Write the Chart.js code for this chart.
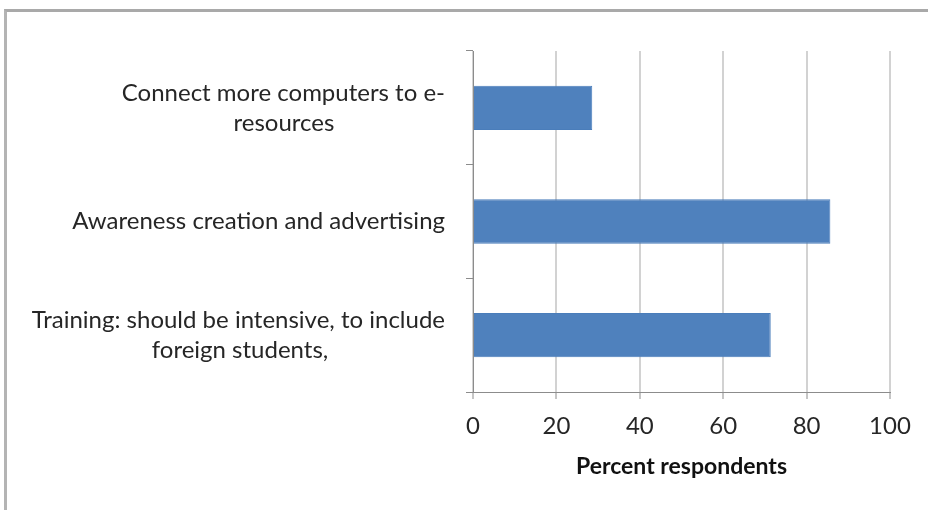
<!DOCTYPE html>
<html>
<head>
<meta charset="utf-8">
<title>Suggestions for improving e-resource use</title>
<script src="https://cdn.jsdelivr.net/npm/chart.js@4"></script>
<style>
  html, body { margin: 0; padding: 0; background: #fff; }
  #wrap { position: relative; width: 928px; height: 510px; overflow: hidden; }
  #frame {
    position: absolute; left: 4px; top: 9px; right: -10px; bottom: -10px;
    border-top: 3px solid #a9a9a9; border-left: 3px solid #b4b4b4;
    pointer-events: none;
  }
  canvas { position: absolute; left: 0; top: 0; }
</style>
</head>
<body>
<div id="wrap">
  <canvas id="chart" width="928" height="510"></canvas>
  <div id="frame"></div>
</div>
<script>
// category labels, top to bottom (wrapped lines as arrays)
const categories = [
    ["Connect more computers to e-", "resources"],
    "Awareness creation and advertising",
    ["Training: should be intensive, to include", "foreign students,"]
];
const percentValues = [28.6, 85.7, 71.4];
const xTicks = [0, 20, 40, 60, 80, 100];

const labelFont = { family: "Lato", size: 24, lineHeight: 1.25 };

// y labels are right-aligned as a block, but each wrapped line is centred
// under the widest one: pad short lines with trailing spaces to get there
const measure = document.createElement("canvas").getContext("2d");
measure.font = labelFont.size + "px " + labelFont.family;
function centreLines(label) {
    if (!Array.isArray(label)) return label;
    const widest = Math.max(...label.map(l => measure.measureText(l).width));
    return label.map(line => {
        const target = (widest + measure.measureText(line).width) / 2;
        let out = line;
        while (measure.measureText(out + " ").width <= target + 2) out += " ";
        return out;
    });
}

new Chart(document.getElementById("chart"), {
    type: "bar",
    data: {
        labels: categories.map(centreLines),
        datasets: [{
            data: percentValues,
            backgroundColor: "#4f81bd",
            borderColor: "#4a7dba",
            borderWidth: 1,
            barPercentage: 0.39,
            categoryPercentage: 1
        }]
    },
    options: {
        indexAxis: "y",
        responsive: false,
        animation: false,
        layout: { padding: { top: 43, right: 38, left: 0, bottom: 30 } },
        plugins: { legend: { display: false }, tooltip: { enabled: false } },
        scales: {
            x: {
                min: 0, max: 100,
                afterBuildTicks: s => { s.ticks = xTicks.map(v => ({ value: v })); },
                afterFit: s => { s.height = 510 - 30 - 392; },
                grid: { color: "#d2d2d2", lineWidth: 2, tickLength: 7, tickColor: "#8c8c8c", tickWidth: 1 },
                border: { color: "#8c8c8c", width: 1 },
                ticks: { color: "#262626", font: labelFont, padding: 12 },
                title: {
                    display: true, text: "Percent respondents", color: "#111",
                    font: { family: "Lato", size: 23, weight: "bold" },
                    padding: { top: 2, bottom: 0 }
                }
            },
            y: {
                afterFit: s => { s.width = 473; },
                grid: { drawOnChartArea: false, offset: true, tickLength: 7, color: "#8c8c8c" },
                border: { color: "#8c8c8c", width: 1 },
                ticks: { color: "#262626", font: labelFont, padding: 21 }
            }
        }
    }
});
</script>
</body>
</html>
